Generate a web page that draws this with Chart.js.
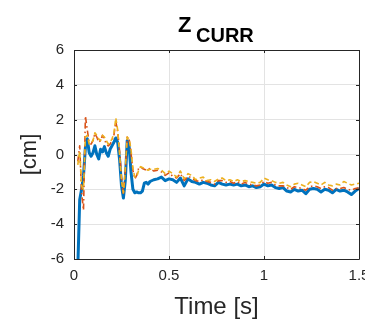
<!DOCTYPE html>
<html>
<head>
<meta charset="utf-8">
<script src="https://cdn.jsdelivr.net/npm/chart.js@4.4.1/dist/chart.umd.min.js"></script>
<style>
  html, body { margin: 0; padding: 0; background: #fff; }
  #wrap { width: 365px; height: 324px; overflow: hidden; position: relative; }
  canvas { display: block; }
</style>
</head>
<body>
<div id="wrap"><canvas id="chart" width="380" height="324"></canvas></div>
<script>
// time axis [s]
var times = [
  0.00, 0.01, 0.02, 0.03, 0.04, 0.05, 0.06, 0.07, 0.08, 0.09,
  0.10, 0.11, 0.12, 0.13, 0.14, 0.15, 0.16, 0.17, 0.18, 0.19,
  0.20, 0.21, 0.22, 0.23, 0.24, 0.25, 0.26, 0.27, 0.28, 0.29,
  0.30, 0.31, 0.32, 0.33, 0.34, 0.35, 0.36, 0.37, 0.38, 0.39,
  0.40, 0.42, 0.44, 0.46, 0.48, 0.50, 0.52, 0.54, 0.56, 0.58,
  0.60, 0.62, 0.64, 0.66, 0.68, 0.70, 0.72, 0.74, 0.76, 0.78,
  0.80, 0.82, 0.84, 0.86, 0.88, 0.90, 0.92, 0.94, 0.96, 0.98,
  1.00, 1.02, 1.04, 1.06, 1.08, 1.10, 1.12, 1.14, 1.16, 1.18,
  1.20, 1.22, 1.24, 1.26, 1.28, 1.30, 1.32, 1.34, 1.36, 1.38,
  1.40, 1.42, 1.44, 1.46, 1.48, 1.50
];

// z_curr [cm], solid blue
var zBlue = [
  -16, -11, -6.5, -2.6, -2.0, -1.2, 0.4, 0.9, 0.1, -0.1,
  0.1, 0.5, 0.0, -0.25, 0.3, 0.15, 0.45, 0.1, -0.1, 0.3,
  0.5, 0.7, 0.95, 0.7, -0.3, -1.8, -2.5, -1.5, 0.8, 0.5,
  -1.0, -2.0, -2.2, -2.15, -2.2, -2.2, -2.1, -1.65, -1.6, -1.7,
  -1.55, -1.45, -1.4, -1.3, -1.5, -1.4, -1.45, -1.6, -1.35, -1.8,
  -1.4, -1.55, -1.6, -1.7, -1.6, -1.65, -1.75, -1.8, -1.6, -1.7,
  -1.75, -1.7, -1.75, -1.7, -1.8, -1.75, -1.85, -1.8, -1.9, -1.85,
  -1.7, -1.8, -1.75, -1.9, -1.95, -1.9, -2.1, -2.15, -2.0, -2.1,
  -2.05, -2.25, -2.0, -1.95, -2.0, -2.15, -2.0, -2.05, -2.2, -2.0,
  -2.1, -2.05, -2.15, -2.3, -2.1, -1.95
];

// dash-dot orange
var zOrange = [
  null, null, -0.4, 0.5, -2.2, -3.2, 2.2, 1.4, 0.7, 0.6,
  0.8, 1.2, 1.0, 0.7, 0.8, 1.1, 0.9, 0.6, 0.5, 0.6,
  0.8, 1.1, 1.9, 1.3, 0.2, -1.3, -2.3, -1.0, 1.0, 0.9,
  0.1, -0.9, -1.4, -1.2, -0.8, -0.7, -0.8, -0.85, -0.9, -0.85,
  -0.8, -0.95, -0.9, -1.0, -1.2, -1.05, -1.25, -1.35, -1.1, -1.5,
  -1.25, -1.35, -1.5, -1.55, -1.45, -1.55, -1.6, -1.7, -1.5, -1.5,
  -1.6, -1.55, -1.65, -1.55, -1.7, -1.6, -1.7, -1.75, -1.8, -1.75,
  -1.55, -1.65, -1.6, -1.75, -1.8, -1.8, -1.9, -2.0, -1.85, -1.9,
  -1.95, -2.05, -1.85, -1.8, -1.85, -1.95, -1.85, -1.9, -2.05, -1.95,
  -1.95, -1.9, -2.0, -2.05, -1.95, -1.9
];

// dashed yellow
var zYellow = [
  null, null, -0.6, 0.2, -1.8, -2.0, 1.0, 1.1, 0.6, 0.7,
  0.8, 1.25, 1.1, 0.9, 0.8, 1.1, 1.0, 0.8, 0.6, 0.7,
  0.9, 1.2, 2.1, 1.4, 0.0, -1.5, -2.2, -0.8, 1.0, 0.9,
  0.3, -0.8, -1.3, -1.3, -0.9, -0.7, -0.75, -0.8, -0.85, -0.9,
  -0.85, -0.85, -0.8, -0.9, -1.1, -0.95, -1.1, -1.3, -0.95, -1.4,
  -1.1, -1.2, -1.45, -1.35, -1.3, -1.5, -1.45, -1.55, -1.4, -1.35,
  -1.5, -1.45, -1.55, -1.45, -1.55, -1.5, -1.55, -1.6, -1.65, -1.6,
  -1.35, -1.45, -1.5, -1.6, -1.65, -1.6, -1.75, -1.85, -1.7, -1.65,
  -1.75, -1.85, -1.6, -1.55, -1.65, -1.75, -1.6, -1.75, -1.8, -1.7,
  -1.75, -1.55, -1.65, -1.75, -1.7, -1.65
];

var xTicks = [0, 0.5, 1, 1.5];
var xTickLabels = ['0', '0.5', '1', '1.5'];
var yTicks = [-6, -4, -2, 0, 2, 4, 6];
var yTickLabels = ['-6', '-4', '-2', '0', '2', '4', '6'];

var FONT = '"Liberation Sans", Arial, Helvetica, sans-serif';
var AXIS_COLOR = '#262626';
var GRID_COLOR = '#e3e3e3';

function toPoints(values) {
  return times.map(function(t, i) { return { x: t, y: values[i] }; });
}

// MATLAB-like box, inward ticks and sub-scripted title
var boxPlugin = {
  id: 'matlabBox',
  afterDatasetsDraw: function(chart) {
    var ctx = chart.ctx;
    var a = chart.chartArea;
    var xs = chart.scales.x;
    var ys = chart.scales.y;
    ctx.save();
    ctx.strokeStyle = AXIS_COLOR;
    ctx.lineWidth = 1;
    ctx.beginPath();
    ctx.rect(Math.round(a.left) + 0.5, Math.round(a.top) + 0.5,
      Math.round(a.right - a.left), Math.round(a.bottom - a.top));
    xTicks.forEach(function(v) {
      var px = Math.round(xs.getPixelForValue(v)) + 0.5;
      ctx.moveTo(px, a.bottom); ctx.lineTo(px, a.bottom - 3);
      ctx.moveTo(px, a.top); ctx.lineTo(px, a.top + 3);
    });
    yTicks.forEach(function(v) {
      var py = Math.round(ys.getPixelForValue(v)) + 0.5;
      ctx.moveTo(a.left, py); ctx.lineTo(a.left + 3, py);
      ctx.moveTo(a.right, py); ctx.lineTo(a.right - 3, py);
    });
    ctx.stroke();
    ctx.restore();
  },
  afterDraw: function(chart) {
    var ctx = chart.ctx;
    ctx.save();
    ctx.fillStyle = '#000';
    ctx.textBaseline = 'alphabetic';
    ctx.font = 'bold 22px ' + FONT;
    ctx.fillText('Z', 178, 32);
    ctx.font = 'bold 20px ' + FONT;
    ctx.fillText('CURR', 196, 42);
    ctx.restore();
  }
};

var ctx = document.getElementById('chart');
var chart = new Chart(ctx, {
  type: 'line',
  data: {
    datasets: [
      {
        data: toPoints(zBlue),
        borderColor: '#0072BD',
        borderWidth: 3,
        order: 3
      },
      {
        data: toPoints(zOrange),
        borderColor: '#D95319',
        borderWidth: 1.6,
        borderDash: [6, 3, 1.5, 3],
        order: 2
      },
      {
        data: toPoints(zYellow),
        borderColor: '#EDB120',
        borderWidth: 1.6,
        borderDash: [5, 3],
        order: 1
      }
    ]
  },
  options: {
    responsive: false,
    animation: false,
    devicePixelRatio: 1,
    layout: { padding: { top: 50, right: 21, left: 0, bottom: 0 } },
    elements: {
      point: { radius: 0 },
      line: { tension: 0, fill: false, borderJoinStyle: 'round' }
    },
    plugins: {
      legend: { display: false },
      tooltip: { enabled: false },
      title: { display: false }
    },
    scales: {
      x: {
        type: 'linear',
        min: 0,
        max: 1.5,
        afterFit: function(scale) { scale.height = 65; },
        afterBuildTicks: function(scale) {
          scale.ticks = xTicks.map(function(v) { return { value: v }; });
        },
        grid: { color: GRID_COLOR, drawTicks: false },
        border: { display: false },
        ticks: {
          padding: 8,
          maxRotation: 0,
          color: AXIS_COLOR,
          font: { family: FONT, size: 15 },
          callback: function(v) { return xTickLabels[xTicks.indexOf(v)]; }
        },
        title: {
          display: true,
          text: 'Time [s]',
          color: AXIS_COLOR,
          font: { family: FONT, size: 24 },
          padding: { top: 0, bottom: 2 }
        }
      },
      y: {
        type: 'linear',
        min: -6,
        max: 6,
        afterFit: function(scale) { scale.width = 74; },
        afterBuildTicks: function(scale) {
          scale.ticks = yTicks.map(function(v) { return { value: v }; });
        },
        grid: { color: GRID_COLOR, drawTicks: false },
        border: { display: false },
        ticks: {
          padding: 10,
          color: AXIS_COLOR,
          font: { family: FONT, size: 15 },
          callback: function(v) { return yTickLabels[yTicks.indexOf(v)]; }
        },
        title: {
          display: true,
          text: '[cm]',
          color: AXIS_COLOR,
          font: { family: FONT, size: 22 },
          padding: { top: 17, bottom: 0 }
        }
      }
    }
  },
  plugins: [boxPlugin]
});
</script>
</body>
</html>
